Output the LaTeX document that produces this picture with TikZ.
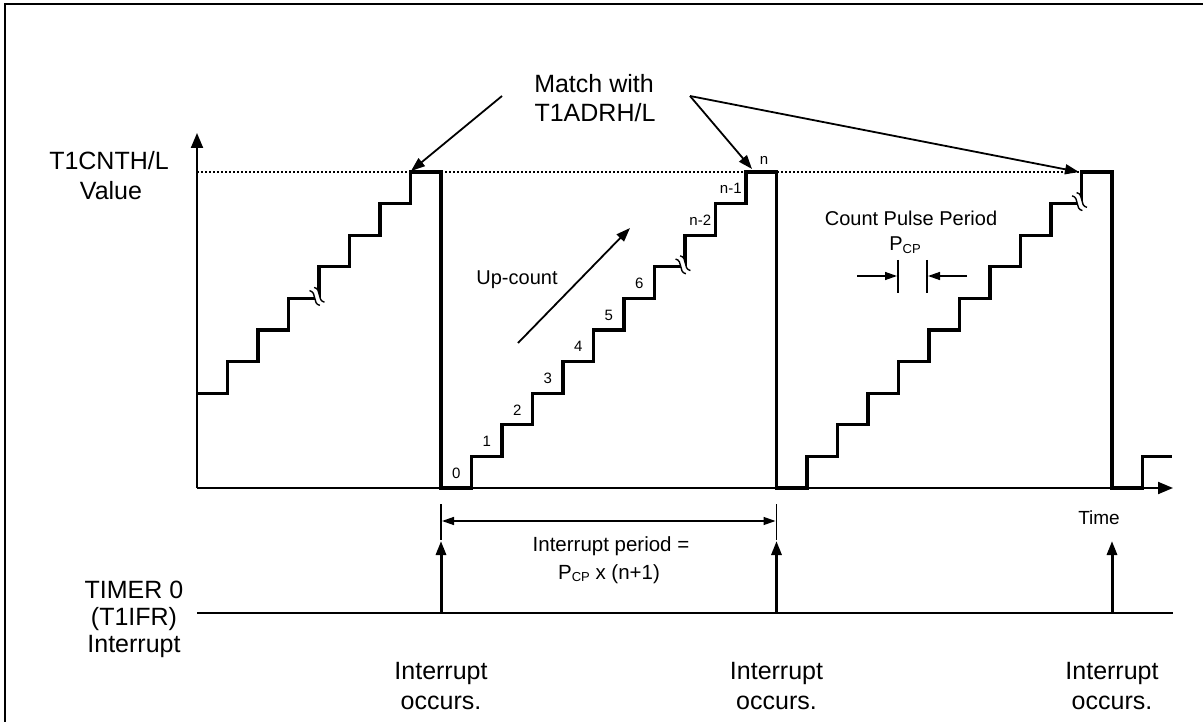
\documentclass[tikz,border=0pt]{standalone}
\usepackage{fontspec}
\setmainfont{Liberation Sans}
\usetikzlibrary{arrows.meta}
\begin{document}
\begin{tikzpicture}[x=1pt,y=-1pt,
  declare function={X(\k)=197+30.5*\k; Y(\l)=488-31.6*\l;},
  stair/.style={line width=3.2pt, line join=miter},
  axis/.style={line width=2pt,-{Triangle[length=15pt,width=12pt]}},
  ptr/.style={line width=1.8pt,-{Triangle[length=14pt,width=10pt]}},
  irq/.style={line width=3pt,-{Triangle[length=14pt,width=10pt]}},
  dimline/.style={line width=1.4pt},
  dimarrow/.style={line width=1.4pt,-{Triangle[length=12pt,width=8pt]}},
  limit/.style={line width=1.4pt, dash pattern=on 1.6pt off 2.4pt},
  big/.style={font=\fontsize{25}{29}\selectfont, inner sep=0pt, anchor=base},
  mid/.style={font=\fontsize{20}{22}\selectfont, inner sep=0pt, anchor=base},
  small/.style={font=\fontsize{15}{17}\selectfont, inner sep=0pt},
  brk/.pic={
    \draw[white, line width=5pt] (-9,0) .. controls (-3,-5.5) and (3,5.5) .. (9,0);
    \draw[line width=1.4pt] (-9,-2.8) .. controls (-3,-8.3) and (3,2.7) .. (9,-2.8);
    \draw[line width=1.4pt] (-9,2.8) .. controls (-3,-2.7) and (3,8.3) .. (9,2.8);
  }]
\useasboundingbox (0,0) rectangle (1203,722);

% outer frame
\draw[line width=2.5pt] (5,722) -- (5,4) -- (1203,4);

% axes
\coordinate (O) at (197,488);
\coordinate (ytip) at (197,133);
\coordinate (xtip) at (1173,488);
\draw[axis] (O) -- (ytip);
\draw[axis] (O) -- (xtip);

% compare value level
\coordinate (lvlA) at (197,{Y(10)});
\coordinate (lvlB) at (1079,{Y(10)});
\draw[limit] (lvlA) -- (lvlB);

% counter value
\draw[stair] ({X(0)},{Y(3)})
  foreach \k in {1,...,7}{ -| ({X(\k)},{Y(\k+3)}) }
  -| ({X(8)},{Y(0)})
  foreach \k in {9,...,18}{ -| ({X(\k)},{Y(\k-8)}) }
  -| ({X(19)},{Y(0)})
  foreach \k in {20,...,29}{ -| ({X(\k)},{Y(\k-19)}) }
  -| ({X(30)},{Y(0)}) -| ({X(31)},{Y(1)}) -- (1172,{Y(1)});

% omitted steps
\pic[rotate=-55] at ({X(4)-2},{Y(6)-2}) {brk};
\pic[rotate=-55] at ({X(16)-2},{Y(7)-2}) {brk};
\pic[rotate=-55] at ({X(29)-2},{Y(9)-2}) {brk};

% step numbers
\foreach \j in {0,...,6}{
  \node[small] (s\j) at ({X(8.5+\j)},{Y(\j)-15}) {\j};
}
\node[small] (s8) at ({X(16.5)},{Y(8)-15}) {n-2};
\node[small] (s9) at ({X(17.5)},{Y(9)-15}) {n-1};
\node[small] (s10) at (764,160) {n};

% axis label
\node[big] (ylab1) at (109,170) {T1CNTH/L};
\node[big] (ylab2) at (111,200) {Value};

% match annotation
\node[big] (match1) at (594,93) {Match with};
\node[big] (match2) at (595,122) {T1ADRH/L};
\coordinate (mL) at (502,96);
\coordinate (mR) at (690,96);
\coordinate (hit1) at (411,171);
\coordinate (hit2) at (752,169);
\coordinate (hit3) at (1079,172);
\draw[ptr] (mL) -- (hit1);
\draw[ptr] (mR) -- (hit2);
\draw[ptr] (mR) -- (hit3);

% up-count
\node[mid] (upc) at (517,285) {Up-count};
\coordinate (ucA) at (518,343);
\coordinate (ucB) at (630,228);
\draw[ptr] (ucA) -- (ucB);

% count pulse period
\node[mid] (cpp) at (911,226) {Count Pulse Period};
\node[mid] (pcp) at (905,251) {P\raisebox{-0.25ex}{\fontsize{13}{13}\selectfont CP}};
\coordinate (cpL1) at (898,260); \coordinate (cpL2) at (898,293);
\coordinate (cpR1) at (927,260); \coordinate (cpR2) at (927,293);
\draw[dimline] (cpL1) -- (cpL2);
\draw[dimline] (cpR1) -- (cpR2);
\coordinate (cpA) at (857,276); \coordinate (cpAt) at (897,276);
\coordinate (cpB) at (967,276); \coordinate (cpBt) at (928,276);
\draw[dimarrow] (cpA) -- (cpAt);
\draw[dimarrow] (cpB) -- (cpBt);

% time label
\node[mid, font=\fontsize{19}{22}\selectfont] (time) at (1099,524) {Time};

% interrupt period
\coordinate (ipL1) at ({X(8)},504); \coordinate (ipL2) at ({X(8)},540);
\coordinate (ipR1) at ({X(19)},504); \coordinate (ipR2) at ({X(19)},540);
\draw[line width=1.2pt] (ipL1) -- (ipL2);
\draw[line width=1.2pt] (ipR1) -- (ipR2);
\coordinate (ipA) at ({X(8)+1},521); \coordinate (ipB) at ({X(19)-1},521);
\draw[dimline,{Triangle[length=12pt,width=8pt]}-{Triangle[length=12pt,width=8pt]}] (ipA) -- (ipB);
\node[mid, font=\fontsize{20.5}{22}\selectfont] (ip1) at (611,551) {Interrupt period =};
\node[mid, font=\fontsize{20.5}{22}\selectfont] (ip2) at (609,579) {P\raisebox{-0.25ex}{\fontsize{13}{13}\selectfont CP} x (n+1)};

% interrupt line
\node[big] (tm1) at (134,598) {TIMER 0};
\node[big] (tm2) at (134,625) {(T1IFR)};
\node[big] (tm3) at (134,652) {Interrupt};
\coordinate (tl0) at (197,613);
\coordinate (tl1) at (1173,613);
\draw[line width=2pt] (tl0) -- (tl1);
\foreach \i/\k in {1/8, 2/19, 3/30}{
  \coordinate (ib\i) at ({X(\k)},613);
  \coordinate (it\i) at ({X(\k)},541);
  \draw[irq] (ib\i) -- (it\i);
  \node[big] (io\i) at ({X(\k)},679) {Interrupt};
  \node[big] (oc\i) at ({X(\k)},709) {occurs.};
}
\end{tikzpicture}
\end{document}
